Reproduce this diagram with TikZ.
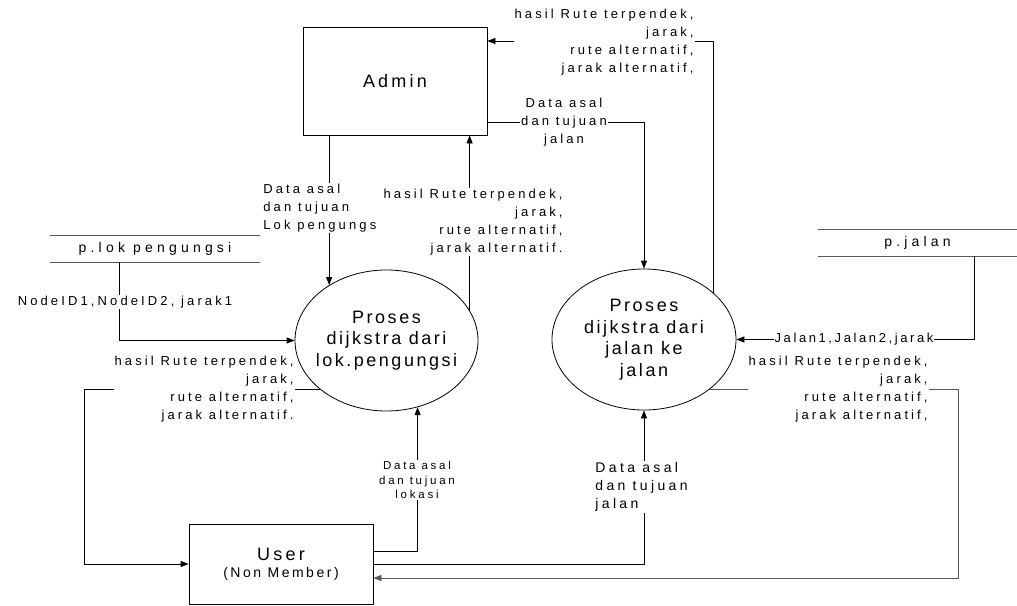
\documentclass[tikz,border=0pt]{standalone}
\usepackage{fontspec}
\setmainfont{Liberation Sans}[LetterSpace=24]
\usetikzlibrary{arrows.meta, shapes.geometric, positioning}

\tikzset{
  entity/.style={draw, minimum width=184pt, inner sep=0pt, align=center,
    font=\fontsize{18}{21}\selectfont\addfontfeature{LetterSpace=18}},
  proses/.style={draw, ellipse, minimum width=184pt, minimum height=141pt,
    inner sep=0pt},
  ptext/.style={align=center,
    font=\fontsize{18}{21.5}\selectfont\addfontfeature{LetterSpace=14}},
  store/.style={minimum height=26pt, inner sep=0pt,
    font=\fontsize{14}{16}\selectfont\addfontfeature{LetterSpace=30}},
  flow/.style={-{Triangle[length=8pt,width=6pt]}},
  lbl/.style={fill=white, inner sep=1pt, font=\fontsize{13}{18}\selectfont}
}

\begin{document}
\begin{tikzpicture}[x=1pt, y=-1pt, line width=0.8pt]
  \useasboundingbox (0,0) rectangle (1017,605);
  % Entities
  \node[entity, minimum height=108pt] (admin) at (395,81) {Admin};
  \node[entity, minimum height=80pt] (user) at (281,564)
    {\raisebox{-4pt}{User}\\{\fontsize{14}{16}\selectfont(Non Member)}};
  % Processes
  \node[proses, minimum width=183pt,
    label={[ptext]center:Proses\\dijkstra dari\\lok.pengungsi}] (p1) at (386.5,340.5) {};
  \node[proses,
    label={[ptext]center:Proses\\dijkstra dari\\jalan ke\\jalan}] (p2) at (644,339.5) {};
  % Data stores
  \node[store, minimum width=210pt] (lok) at (155,249) {p.lok pengungsi};
  \draw[black!65] (lok.north west) -- (lok.north east) (lok.south west) -- (lok.south east);
  \node[store, minimum width=199pt] (jln) at (917.5,242.5) {p.jalan};
  \draw[black!65] (jln.north west) -- (jln.north east) (jln.south west) -- (jln.south east);
  % Flows
  \draw[flow] (p1.136 |- admin.south) -- (p1.136);
  \draw[flow] (p1.20) -- (p1.20 |- admin.south);
  \draw[flow] ([yshift=-41pt]admin.east) -| (p2.north);
  \draw[flow] (p2.34) |- ([yshift=40pt]admin.east);
  \draw[flow] ([xshift=70pt]lok.south west) |- (p1.west);
  \draw[flow] ([xshift=157pt]jln.south west) |- (p2.east);
  \draw[flow] (p1.216) -- ++(-235,0) |- (user.west);
  \draw[flow] ([yshift=13pt]user.east) -| (p1.295);
  \draw[flow] (user.east) -| (p2.south);
  \draw[flow, black!65] (p2.323) -- ++(248,0) |- ([yshift=-14pt]user.east);
  % Labels
  \node[lbl, align=right, anchor=east] (hasil1) at (695,42)
    {hasil Rute terpendek,\\jarak,\\rute alternatif,\\jarak alternatif,};
  \node[lbl, align=center] (asal1) at (564,122) {Data asal\\dan tujuan\\jalan};
  \node[lbl, align=left, anchor=west] (asal2) at (262,208)
    {Data asal\\dan tujuan\\Lok pengungs};
  \node[lbl, align=right, anchor=east] (hasil2) at (564,222)
    {hasil Rute terpendek,\\jarak,\\rute alternatif,\\jarak alternatif.};
  \node[lbl] (node1) at (125,302) {NodeID1,NodeID2, jarak1};
  \node[lbl, align=right, anchor=east] (hasil3) at (295,389)
    {hasil Rute terpendek,\\jarak,\\rute alternatif,\\jarak alternatif.};
  \node[lbl, align=center, font=\fontsize{11.5}{14.5}\selectfont] (asal3) at (417,480)
    {Data asal\\dan tujuan\\lokasi};
  \node[lbl, align=left, anchor=west, font=\fontsize{14}{18}\selectfont] (asal4) at (594,487)
    {Data asal\\dan tujuan\\jalan};
  \node[lbl, font=\fontsize{13}{18}\selectfont\addfontfeature{LetterSpace=20}] (jalan1) at (854,339)
    {Jalan1,Jalan2,jarak};
  \node[lbl, align=right, anchor=east] (hasil4) at (929,389)
    {hasil Rute terpendek,\\jarak,\\rute alternatif,\\jarak alternatif,};
\end{tikzpicture}
\end{document}
